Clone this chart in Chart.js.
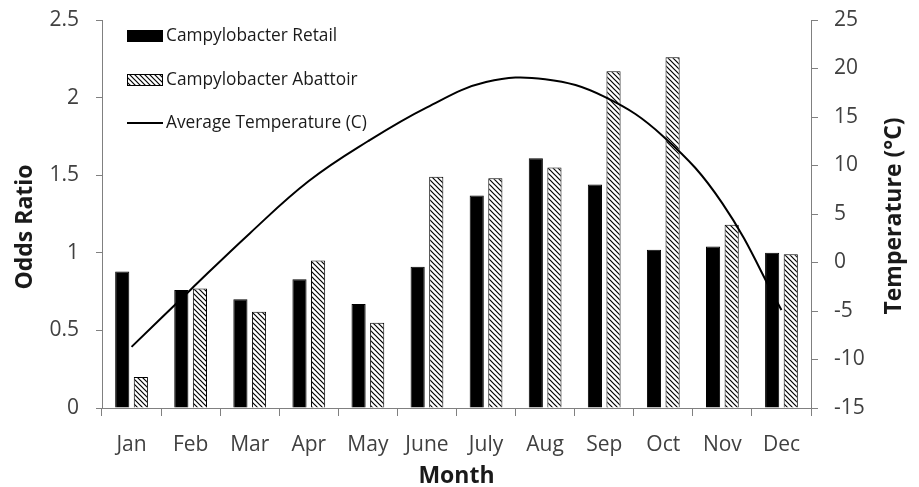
<!DOCTYPE html>
<html>
<head>
<meta charset="utf-8">
<script src="https://cdn.jsdelivr.net/npm/chart.js@4.4.1/dist/chart.umd.min.js"></script>
<style>
  body { margin: 0; background: #fff; }
  canvas { display: block; }
</style>
</head>
<body>
<canvas id="monthChart" width="919" height="487"></canvas>
<script>
// data
var months = ["Jan", "Feb", "Mar", "Apr", "May", "June", "July", "Aug", "Sep", "Oct", "Nov", "Dec"];
var retailOdds = [0.88, 0.76, 0.70, 0.83, 0.67, 0.91, 1.37, 1.61, 1.44, 1.02, 1.04, 1.00];
var abattoirOdds = [0.20, 0.77, 0.62, 0.95, 0.55, 1.49, 1.48, 1.55, 2.17, 2.26, 1.18, 0.99];
var avgTemp = [-8.7, -2.8, 3.0, 8.4, 12.5, 16.0, 18.6, 18.9, 17.1, 13.0, 6.1, -4.9];
var oddsTicks = [0, 0.5, 1, 1.5, 2, 2.5];
var tempTicks = [-15, -10, -5, 0, 5, 10, 15, 20, 25];

var fontFamily = "'Open Sans', 'Noto Sans', sans-serif";
var canvas = document.getElementById("monthChart");
var ctx = canvas.getContext("2d");

function makeHatch() {
  //small tile with "\" stripes for the abattoir bars
  var c = document.createElement("canvas");
  c.width = 5;
  c.height = 5;
  var g = c.getContext("2d");
  g.fillStyle = "#fff";
  g.fillRect(0, 0, 5, 5);
  g.strokeStyle = "#000";
  g.lineWidth = 1.2;
  g.beginPath();
  g.moveTo(-1, -1);
  g.lineTo(6, 6);
  g.moveTo(-1, 4);
  g.lineTo(1, 6);
  g.moveTo(4, -1);
  g.lineTo(6, 1);
  g.stroke();
  return ctx.createPattern(c, "repeat");
}
var hatch = makeHatch();

function tickText(v) {
  return String(v); //"2" not "2.0"
}

function fixYBox(width) {
  //fixed axis width, and no extra room above the top tick
  return function (s) {
    s.width = width;
    s.paddingTop = 0;
    s.paddingBottom = 0;
  };
}

var insideLegend = {
  id: "insideLegend",
  afterDraw: function (chart) {
    var c = chart.ctx;
    var rows = [36, 80, 123];
    c.save();
    c.font = "17.3px " + fontFamily;
    c.textBaseline = "middle";
    chart.data.datasets.forEach(function (ds, i) {
      var y = rows[i];
      if (ds.type == "line") {
        c.strokeStyle = "#000";
        c.lineWidth = 2;
        c.beginPath();
        c.moveTo(127, y);
        c.lineTo(163, y);
        c.stroke();
      } else {
        c.fillStyle = ds.backgroundColor;
        c.fillRect(127, y - 6, 36, 12);
        c.strokeStyle = "#000";
        c.lineWidth = 1;
        c.strokeRect(127.5, y - 5.5, 35, 11);
      }
      c.fillStyle = "#1a1a1a";
      c.fillText(ds.label, 166, y);
    });

    // both y titles read bottom-to-top
    c.font = "bold 23px " + fontFamily;
    c.textAlign = "center";
    c.fillStyle = "#1a1a1a";
    c.translate(25, 227);
    c.rotate(-Math.PI / 2);
    c.fillText("Odds Ratio", 0, 0);
    c.setTransform(1, 0, 0, 1, 0, 0);
    c.translate(894, 216);
    c.rotate(-Math.PI / 2);
    c.fillText("Temperature (°C)", 0, 0);
    c.restore();
  },
};

new Chart(ctx, {
  type: "bar",
  data: {
    labels: months,
    datasets: [
      {
        label: "Campylobacter Retail",
        data: retailOdds,
        backgroundColor: "#000",
        borderColor: "#000",
        borderWidth: 1,
        yAxisID: "y",
        order: 1,
        categoryPercentage: 0.63,
        barPercentage: 0.76,
      },
      {
        label: "Campylobacter Abattoir",
        data: abattoirOdds,
        backgroundColor: hatch,
        borderColor: "#000",
        borderWidth: 1,
        yAxisID: "y",
        order: 1,
        categoryPercentage: 0.63,
        barPercentage: 0.76,
      },
      {
        type: "line",
        label: "Average Temperature (C)",
        data: avgTemp,
        borderColor: "#000",
        borderWidth: 2,
        pointRadius: 0,
        tension: 0.4,
        fill: false,
        yAxisID: "y1",
        order: 0,
      },
    ],
  },
  options: {
    responsive: false,
    animation: false,
    events: [],
    layout: { padding: { top: 20, left: 0, right: 0, bottom: 0 } },
    plugins: { legend: { display: false }, tooltip: { enabled: false } },
    scales: {
      x: {
        grid: { drawOnChartArea: false, drawTicks: true, tickLength: 8, color: "#808080", offset: true },
        border: { display: true, color: "#808080", width: 1 },
        ticks: { color: "#404040", font: { family: fontFamily, size: 21 }, padding: 16, maxRotation: 0 },
        title: {
          display: true,
          text: "Month",
          color: "#1a1a1a",
          font: { family: fontFamily, size: 23, weight: "bold" },
          padding: { top: 0, bottom: -3 },
        },
        afterFit: function (s) {
          s.height = 79;
        },
      },
      y: {
        position: "left",
        min: 0,
        max: 2.5,
        afterBuildTicks: function (s) {
          s.ticks = oddsTicks.map(function (v) {
            return { value: v };
          });
        },
        grid: { drawOnChartArea: false, drawTicks: true, tickLength: 6, color: "#808080" },
        border: { display: true, color: "#808080", width: 1 },
        ticks: { color: "#404040", font: { family: fontFamily, size: 21 }, padding: 17, callback: tickText },
        afterFit: fixYBox(102),
      },
      y1: {
        position: "right",
        min: -15,
        max: 25,
        afterBuildTicks: function (s) {
          s.ticks = tempTicks.map(function (v) {
            return { value: v };
          });
        },
        grid: { drawOnChartArea: false, drawTicks: true, tickLength: 7, color: "#808080" },
        border: { display: true, color: "#808080", width: 1 },
        ticks: { color: "#404040", font: { family: fontFamily, size: 21 }, padding: 16, callback: tickText },
        afterFit: fixYBox(108),
      },
    },
  },
  plugins: [insideLegend],
});
</script>
</body>
</html>
